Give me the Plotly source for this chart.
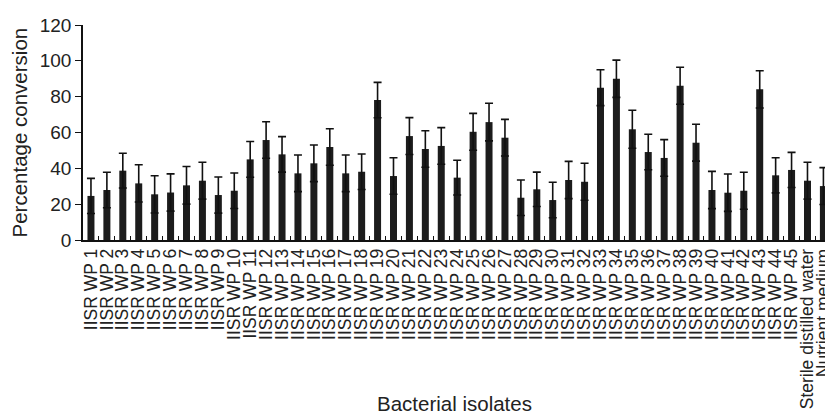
import plotly.graph_objects as go

categories = [f"IISR WP {i}" for i in range(1, 46)] + ["Sterile distilled water", "Nutrient medium"]

conversion = [24.6, 27.9, 38.7, 31.6, 25.5, 26.5, 30.5, 33.1, 25.1, 27.5,
              45.0, 55.8, 47.8, 37.2, 42.8, 51.9, 37.2, 38.1, 78.1, 35.7,
              58.0, 50.8, 52.5, 34.8, 60.4, 65.8, 57.1, 23.6, 28.3, 22.3,
              33.5, 32.5, 85.0, 90.0, 61.8, 49.1, 45.8, 86.1, 54.3, 27.9,
              26.4, 27.5, 84.1, 36.1, 39.1, 33.1, 30.1]

errors = [9.8, 9.9, 9.7, 10.4, 10.4, 10.4, 10.5, 10.3, 10.1, 9.9,
          10.0, 10.2, 9.9, 10.2, 10.2, 10.2, 10.2, 9.9, 9.9, 10.2,
          10.3, 10.2, 10.2, 9.7, 10.3, 10.5, 10.2, 9.9, 9.6, 9.9,
          10.4, 10.3, 10.0, 10.4, 10.6, 9.9, 10.2, 10.3, 10.3, 10.4,
          10.4, 10.3, 10.4, 9.8, 9.8, 10.3, 10.3]

y_ticks = [0, 20, 40, 60, 80, 100, 120]

FONT = "Liberation Sans, Arial, Helvetica, sans-serif"

fig = go.Figure()
fig.add_trace(go.Bar(
    x=categories,
    y=conversion,
    marker=dict(color="#1c1c1c", line=dict(width=0)),
    error_y=dict(type="data", array=errors, visible=True,
                 color="#111111", thickness=1.6, width=4),
    width=0.44,
))

fig.update_layout(
    width=825, height=415,
    margin=dict(l=83, r=0, t=25, b=175, pad=0),
    paper_bgcolor="white", plot_bgcolor="white",
    showlegend=False,
    font=dict(family=FONT, color="#222222"),
    xaxis=dict(
        type="category",
        range=[-0.5, 46.1],
        tickmode="linear", tick0=0, dtick=1,
        showline=True, linecolor="#111111", linewidth=1.6,
        ticks="inside", ticklen=4, tickwidth=1.2, tickcolor="#111111",
        tickson="boundaries",
        tickangle=-90,
        tickfont=dict(size=17.5, family=FONT, color="#222222"),
        showgrid=False, zeroline=False, automargin=False,
    ),
    yaxis=dict(
        range=[0, 120],
        tickvals=y_ticks,
        showline=True, linecolor="#111111", linewidth=1.6,
        ticks="outside", ticklen=6, tickwidth=1.4, tickcolor="#111111",
        tickfont=dict(size=19, family=FONT, color="#222222"),
        showgrid=False, zeroline=False, automargin=False,
    ),
    annotations=[
        dict(text="Percentage conversion", xref="paper", yref="paper",
             x=0, y=0.5, xanchor="center", yanchor="middle",
             xshift=-64, textangle=-90, showarrow=False,
             font=dict(size=20.5, family=FONT, color="#222222")),
        dict(text="Bacterial isolates", xref="paper", yref="paper",
             x=0.5, y=0, xanchor="center", yanchor="middle",
             yshift=-163, showarrow=False,
             font=dict(size=20.5, family=FONT, color="#222222")),
    ],
)

fig.write_html(
    "out.html",
    config={"displayModeBar": False},
    post_script="document.body.style.margin='0';document.body.style.overflow='hidden';",
)
